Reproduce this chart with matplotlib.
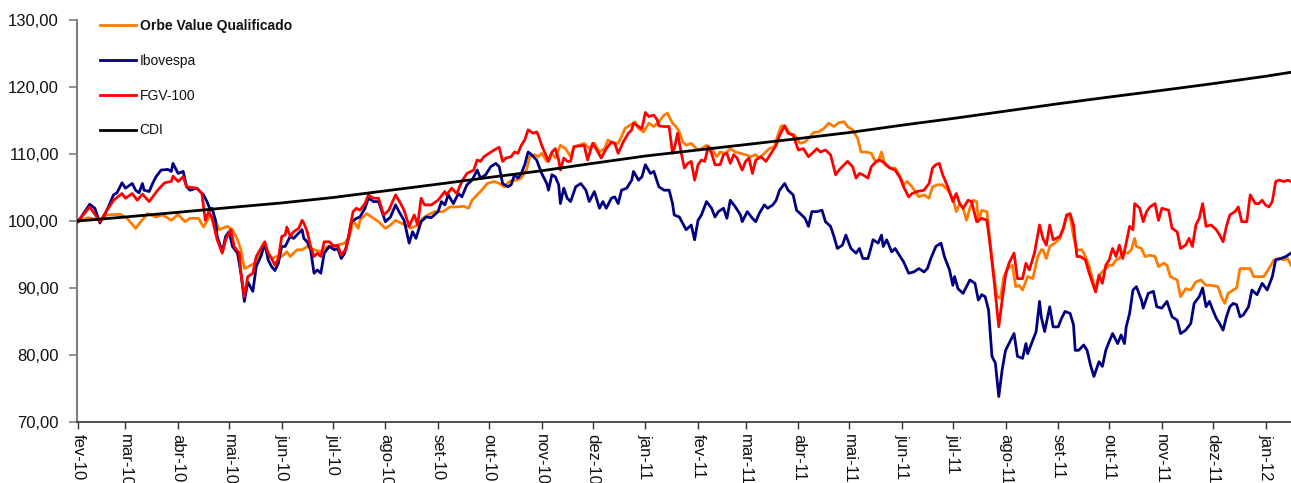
import numpy as np
import matplotlib
matplotlib.use("Agg")
import matplotlib.pyplot as plt
from matplotlib.ticker import FuncFormatter

plt.rcParams['font.family'] = ['Liberation Sans', 'DejaVu Sans']

START = np.datetime64('2010-02-01')

# ---- data (days since 2010-02-01, index value, base 100) ----
ibov_days = [0, 2, 7, 10, 13, 15, 18, 21, 23, 26, 28, 32, 34, 36, 38, 39, 42, 44, 46, 49, 53, 55, 56, 59, 62, 64, 66, 70, 72, 74, 76, 78, 79, 81, 82, 85, 87, 89, 91, 94, 96, 98, 100, 103, 105, 108, 110, 112, 114, 116, 118,
             120, 122, 125, 127, 130, 132, 133, 135, 137, 139, 141, 143, 145, 148, 151, 153, 155, 157, 159, 161, 164, 166, 169, 171, 174, 177, 181, 184, 187, 189, 192, 195, 197, 199, 202, 205, 208, 212, 214, 216, 218, 221, 224, 226, 229, 232, 235, 237,
             240, 243, 246, 248, 250, 253, 255, 257, 259, 261, 263, 265, 267, 270, 273, 276, 277, 279, 281, 283, 284, 286, 288, 290, 293, 296, 299, 301, 304, 307, 309, 311, 314, 316, 318, 320, 323, 326, 327, 330, 332, 334, 337, 339, 342, 345, 348, 350, 351, 354,
             358, 361, 363, 365, 367, 370, 373, 375, 377, 380, 382, 384, 387, 390, 391, 394, 397, 399, 401, 404, 406, 409, 411, 413, 416, 418, 421, 423, 426, 428, 430, 432, 435, 438, 440, 443, 445, 447, 450, 452, 455, 458, 460, 462, 465, 467, 468, 471,
             473, 474, 476, 479, 481, 484, 486, 489, 492, 495, 498, 500, 502, 505, 508, 510, 513, 515, 516, 518, 521, 523, 525, 528, 530, 532, 534, 536, 538, 540, 542, 544, 546, 549, 551, 553, 556, 558, 559, 562, 564, 566, 567, 569, 572, 574, 577, 579, 581, 584, 586, 587, 589,
             592, 594, 596, 598, 601, 603, 605, 607, 609, 612, 614, 616, 617, 619, 621, 623, 626, 627, 630, 633, 635, 638, 641, 644, 647, 649, 652, 655, 657, 660, 662, 664, 666, 668, 670, 672, 674, 676, 678, 680, 682, 684, 686, 689, 691, 694, 697, 700, 703, 705, 708, 711, 714]
ibov_vals = [99.9, 100.6, 102.5, 101.9, 99.7, 100.6, 102.1, 103.9, 104.2, 105.7, 104.9, 105.6, 104.6, 104.2, 105.6, 104.6, 104.4, 105.6, 106.6, 107.6, 107.7, 107.4, 108.6, 107.1, 107.4, 105.1, 104.6, 104.9, 104.4, 103.9, 102.9, 101.6, 101.9, 100.1, 97.7, 95.4, 97.7, 98.4, 96.2, 95.2, 92.2, 88.0, 90.9, 89.5, 93.2, 94.9, 96.7, 94.2, 93.2, 92.6, 93.7,
             96.2, 96.2, 97.7, 97.4, 98.2, 98.7, 97.4, 96.9, 95.7, 92.2, 92.7, 92.2, 95.2, 96.2, 95.7, 95.9, 94.4, 95.2, 97.2, 99.9, 100.4, 100.6, 101.9, 103.4, 102.9, 102.9, 99.9, 100.6, 102.4, 101.4, 100.1, 96.7, 98.4, 97.4, 99.9, 100.6, 100.5, 101.4, 102.9, 102.4, 103.9, 102.6, 104.1, 103.6, 105.4, 106.1, 107.6, 106.4,
             106.9, 108.1, 108.6, 108.1, 105.6, 105.1, 105.4, 106.9, 106.4, 107.1, 108.4, 110.3, 109.9, 109.1, 107.1, 105.6, 104.6, 106.9, 106.6, 105.4, 102.6, 104.9, 103.4, 102.9, 105.1, 105.6, 104.6, 102.9, 104.4, 101.9, 102.9, 101.9, 103.4, 103.6, 102.6, 104.6, 104.9, 106.1, 107.4, 106.1, 106.6, 108.4, 107.1, 107.4, 105.1, 104.6, 104.6, 102.6, 100.9, 100.6,
             98.7, 99.4, 97.2, 100.1, 100.9, 102.9, 101.9, 100.6, 101.4, 101.9, 100.4, 103.1, 102.1, 100.9, 99.9, 101.4, 100.4, 99.9, 101.1, 102.4, 101.9, 102.4, 103.1, 104.6, 105.6, 104.6, 103.9, 101.6, 100.9, 100.4, 99.2, 101.4, 101.4, 101.6, 99.9, 99.2, 97.7, 95.9, 96.4, 97.9, 95.9, 95.2, 95.9, 94.4, 94.4, 96.2, 97.2, 96.7,
             97.9, 96.2, 97.2, 95.4, 95.9, 94.7, 93.9, 92.2, 92.4, 92.9, 92.4, 92.9, 94.4, 96.2, 96.7, 94.7, 92.7, 90.4, 91.7, 89.9, 89.2, 90.2, 91.2, 90.7, 88.2, 89.0, 88.7, 86.7, 79.8, 78.8, 73.8, 77.8, 80.7, 82.2, 83.2, 79.8, 79.5, 81.7, 80.2, 82.2, 83.5, 88.0, 85.7, 83.5, 87.2, 84.2, 84.2, 85.5, 86.5, 86.2, 84.5, 80.7, 80.7,
             81.5, 80.7, 78.5, 76.8, 79.0, 78.3, 80.7, 82.0, 83.2, 81.7, 83.0, 81.7, 84.2, 86.2, 89.7, 90.2, 88.2, 87.0, 89.2, 89.5, 87.2, 87.0, 88.0, 85.7, 85.2, 83.2, 83.7, 84.7, 87.7, 88.7, 90.0, 87.2, 88.0, 86.7, 85.5, 84.7, 83.7, 85.7, 87.2, 87.7, 87.5, 85.7, 86.0, 87.2, 89.7, 89.0, 90.7, 89.7, 91.7, 94.2, 94.4, 94.7, 95.2]

fgv_days = [0, 7, 13, 21, 26, 28, 32, 35, 38, 42, 47, 51, 55, 56, 59, 62, 64, 70, 73, 75, 77, 79, 82, 85, 87, 90, 92, 95, 96, 98, 100, 103, 105, 110, 112, 114,
            116, 118, 120, 122, 123, 125, 127, 130, 132, 133, 135, 137, 139, 141, 143, 145, 148, 151, 153, 155, 158, 160, 162, 164, 166, 169, 171, 174, 177, 180, 183, 187, 190, 192, 195, 198, 200, 202, 204, 208, 212, 216, 217, 220, 223, 226, 229, 233,
            235, 237, 239, 242, 245, 248, 250, 252, 255, 257, 259, 261, 263, 265, 268, 270, 271, 273, 275, 277, 279, 281, 283, 284, 286, 288, 290, 292, 295, 298, 300, 303, 305, 308, 311, 314, 316, 318, 321, 324, 326, 327, 330, 332, 334, 336, 339, 341, 342, 345, 348, 350,
            351, 353, 355, 357, 359, 361, 363, 365, 367, 369, 371, 373, 375, 378, 380, 382, 384, 386, 388, 391, 393, 395, 397, 399, 402, 405, 408, 411, 413, 416, 418, 421, 424, 427, 430, 433, 435, 437, 440, 443, 446, 448, 451, 453, 456, 458, 460, 462, 465, 467, 470,
            472, 475, 478, 481, 484, 486, 489, 491, 494, 498, 501, 503, 505, 507, 509, 512, 515, 517, 519, 521, 524, 526, 529, 532, 535, 537, 539, 542, 544, 546, 548, 550, 551, 553, 556, 558, 560, 563, 566, 568, 570, 572, 574, 578, 580, 582, 584, 586, 588,
            590, 593, 595, 599, 601, 603, 605, 607, 609, 611, 613, 615, 617, 619, 621, 622, 625, 627, 629, 631, 634, 636, 638, 642, 644, 647, 649, 652, 654, 656, 658, 660, 662, 664, 667, 670, 672, 674, 676, 678, 681, 683, 685, 688, 690, 693, 695, 697, 699, 701, 703, 705, 707, 710, 712, 714]
fgv_vals = [99.9, 102.1, 99.9, 103.1, 104.1, 103.4, 104.1, 103.1, 104.0, 102.9, 104.6, 105.7, 105.9, 106.7, 105.9, 106.6, 105.1, 104.9, 104.1, 100.1, 101.4, 100.4, 97.2, 95.2, 97.2, 98.7, 96.2, 95.2, 92.2, 88.7, 91.7, 92.2, 94.7, 96.9, 95.2, 94.4,
            93.4, 94.4, 97.7, 97.9, 99.1, 97.7, 98.4, 98.9, 100.1, 99.7, 98.4, 96.2, 94.7, 95.2, 94.7, 96.9, 96.9, 96.2, 96.4, 94.9, 95.9, 98.7, 101.4, 101.9, 101.6, 102.6, 103.9, 103.4, 103.4, 100.9, 101.6, 103.9, 102.6, 101.6, 99.2, 100.9, 99.4, 103.4, 102.4, 102.4, 103.1, 104.4, 103.9, 104.9, 104.1, 105.9, 107.1, 107.6,
            109.1, 108.9, 109.6, 110.1, 110.6, 111.0, 108.9, 109.4, 109.6, 110.3, 110.1, 111.3, 112.1, 113.6, 113.1, 113.3, 112.8, 111.3, 110.1, 108.9, 110.3, 110.8, 109.1, 107.6, 109.4, 108.9, 108.9, 111.1, 111.2, 111.3, 109.1, 111.6, 110.8, 109.4, 110.8, 111.8, 111.6, 110.1, 111.8, 113.1, 113.6, 114.6, 114.1, 113.8, 116.2, 115.6, 115.8, 115.1, 114.2, 114.1, 114.1, 110.1,
            110.8, 113.1, 110.3, 107.9, 108.6, 108.9, 106.1, 108.4, 109.1, 108.9, 111.1, 110.1, 108.4, 108.4, 109.9, 110.1, 108.6, 109.9, 109.4, 107.6, 108.9, 109.4, 107.1, 109.1, 109.6, 108.9, 110.1, 111.3, 112.8, 114.2, 113.1, 112.8, 110.6, 110.8, 109.6, 110.3, 110.8, 110.3, 110.6, 109.9, 106.9, 107.6, 108.4, 108.9, 108.1, 106.4, 107.1, 106.9, 106.4, 108.1, 108.9,
            109.1, 108.6, 107.9, 107.6, 106.4, 105.1, 103.6, 104.1, 104.4, 104.6, 105.6, 107.9, 108.4, 108.6, 106.9, 105.1, 102.9, 104.1, 102.6, 101.9, 103.1, 102.9, 99.9, 100.4, 100.1, 96.2, 91.7, 84.2, 88.2, 91.9, 93.7, 94.7, 95.2, 91.4, 91.4, 93.7, 92.7, 95.2, 99.4, 97.4, 96.4, 99.4, 97.2, 97.7, 98.9, 100.9, 101.1, 99.4, 94.7,
            94.7, 94.2, 92.4, 89.4, 91.9, 90.7, 93.4, 94.2, 95.9, 94.7, 96.4, 94.4, 96.7, 99.2, 98.7, 102.6, 101.9, 99.9, 101.4, 102.1, 102.6, 100.1, 101.9, 101.6, 98.9, 98.4, 95.9, 96.4, 97.4, 96.2, 99.4, 100.4, 102.6, 99.2, 99.4, 98.7, 97.9, 96.9, 99.2, 100.9, 101.4, 102.1, 99.9, 99.9, 103.9, 102.6, 102.6, 103.1, 102.4, 102.1, 102.9, 105.9, 106.1, 105.9, 106.1, 105.9]

orbe_days = [0, 6, 13, 17, 25, 29, 34, 37, 41, 46, 50, 55, 59, 63, 66, 71, 74, 78, 81, 83, 88, 91, 94, 96, 98, 102, 105, 110, 114, 117,
             120, 123, 125, 129, 132, 135, 137, 143, 147, 153, 157, 160, 162, 165, 166, 170, 174, 177, 181, 184, 187, 190, 193, 196, 200, 203, 206, 210, 215, 219, 223, 227, 230, 232, 235, 237,
             241, 245, 248, 251, 254, 258, 261, 264, 266, 269, 271, 273, 276, 279, 281, 284, 287, 290, 292, 295, 298, 301, 304, 307, 310, 312, 315, 318, 320, 322, 325, 328, 330, 333, 336, 339, 342, 345, 347, 349, 350,
             352, 354, 356, 358, 361, 364, 366, 370, 373, 376, 378, 381, 384, 387, 390, 393, 396, 399, 401, 404, 407, 410, 412, 414, 416, 419, 422, 425, 428, 431, 433, 436, 439, 442, 445, 448, 451, 453, 456, 459, 461, 464, 467, 469, 471,
             473, 475, 478, 481, 484, 486, 488, 491, 495, 498, 501, 503, 506, 509, 512, 515, 517, 519, 521, 523, 525, 527, 529, 530, 532, 535, 537, 539, 541, 543, 545, 547, 550, 552, 554, 556, 559, 562, 565, 567, 568, 570, 572, 575, 578, 580, 582, 584, 586,
             588, 591, 593, 595, 599, 601, 604, 607, 609, 611, 613, 615, 618, 620, 622, 623, 626, 628, 631, 634, 636, 639, 641, 643, 647, 649, 652, 655, 658, 661, 664, 667, 671, 673, 675, 677, 680, 682, 684, 688, 690, 692, 695, 698, 701, 704, 707, 710, 712, 714]
orbe_vals = [99.9, 100.5, 100.1, 100.9, 101.0, 100.4, 98.9, 99.9, 101.1, 100.6, 100.9, 100.1, 101.0, 99.9, 100.4, 100.4, 99.1, 100.9, 100.1, 98.7, 99.2, 98.7, 97.2, 95.7, 92.9, 93.4, 93.9, 96.2, 94.4, 94.7,
             94.7, 95.4, 94.7, 95.7, 95.7, 96.2, 95.9, 95.4, 96.2, 96.4, 96.7, 97.7, 100.1, 98.9, 100.1, 101.1, 100.4, 99.9, 98.9, 99.4, 100.1, 99.7, 99.4, 98.9, 99.4, 100.4, 100.9, 101.4, 101.4, 102.1, 102.1, 102.2, 101.9, 103.1, 103.9, 104.4,
             105.6, 105.9, 105.6, 105.1, 105.9, 106.1, 106.4, 107.6, 109.6, 109.9, 109.6, 110.1, 108.9, 110.1, 109.4, 111.3, 110.8, 109.6, 111.1, 111.3, 111.6, 110.8, 111.6, 110.3, 110.8, 112.1, 111.6, 111.6, 112.6, 113.8, 114.3, 114.8, 113.8, 113.3, 114.6, 114.1, 114.8, 115.8, 116.1, 115.1, 114.6,
             114.1, 113.3, 111.8, 111.3, 111.6, 110.8, 110.6, 111.3, 110.8, 109.6, 110.3, 110.1, 110.8, 110.3, 110.1, 109.9, 109.6, 109.9, 109.4, 110.1, 110.8, 111.1, 112.8, 114.2, 114.2, 113.1, 112.8, 111.6, 111.8, 112.6, 113.2, 113.3, 113.8, 114.6, 114.1, 114.7, 114.8, 114.1, 113.6, 112.3, 110.3, 110.3, 110.1, 109.1, 108.9,
             110.3, 108.4, 107.9, 107.9, 106.6, 105.4, 105.9, 105.1, 103.6, 103.9, 103.4, 105.1, 105.4, 105.4, 104.6, 103.4, 101.4, 102.6, 101.9, 100.1, 101.9, 103.1, 102.9, 99.9, 101.6, 101.4, 96.7, 92.2, 88.7, 88.5, 91.7, 92.9, 93.4, 90.2, 90.4, 89.7, 91.7, 91.4, 94.7, 95.7, 95.7, 94.4, 96.2, 96.7, 97.4, 98.9, 100.9, 100.6, 97.7,
             95.7, 95.7, 94.7, 93.4, 89.7, 91.9, 92.7, 93.4, 93.4, 94.2, 94.4, 95.4, 95.2, 95.7, 97.4, 96.2, 95.9, 94.7, 94.9, 94.7, 93.2, 93.7, 93.4, 91.7, 91.2, 88.7, 89.9, 89.7, 90.9, 91.2, 90.4, 90.4, 90.2, 88.7, 87.7, 89.2, 89.7, 90.0, 92.9, 92.9, 92.9, 91.7, 91.7, 91.7, 92.9, 94.2, 94.4, 94.2, 94.4, 93.4]

cdi_days = [0, 28, 59, 89, 120, 150, 181, 212, 242, 273, 303, 334, 365, 393, 424, 454, 485, 515, 546, 577, 607, 638, 668, 699, 714]
cdi_vals = [100.0, 100.6, 101.3, 102.0, 102.7, 103.5, 104.5, 105.5, 106.5, 107.5, 108.6, 109.7, 110.6, 111.4, 112.3, 113.2, 114.3, 115.3, 116.4, 117.5, 118.5, 119.5, 120.5, 121.6, 122.2]

series_names = ['Orbe Value Qualificado', 'Ibovespa', 'FGV-100', 'CDI']
series_colors = ['#FF7A00', '#000080', '#FF0000', '#000000']

month_abbr = ['jan', 'fev', 'mar', 'abr', 'mai', 'jun', 'jul', 'ago', 'set', 'out', 'nov', 'dez']
y_ticks = [70, 80, 90, 100, 110, 120, 130]


def to_dates(days):
    return START + np.array(days).astype('timedelta64[D]')


fig = plt.figure(figsize=(12.91, 4.83), dpi=100)
ax = fig.add_axes([77 / 1291, 1 - 422 / 483, 1 - 77 / 1291, (422 - 20) / 483])

data = [(orbe_days, orbe_vals), (ibov_days, ibov_vals), (fgv_days, fgv_vals), (cdi_days, cdi_vals)]
for (d, v), name, col, z in zip(data, series_names, series_colors, [2, 3, 4, 5]):
    ax.plot(to_dates(d), v, color=col, lw=2.0, label=name, zorder=z, solid_joinstyle='round')

ax.set_ylim(70, 130)
ax.set_yticks(y_ticks)
ax.yaxis.set_major_formatter(FuncFormatter(lambda v, p: f"{v:.2f}".replace('.', ',')))
ax.set_xlim(START - np.timedelta64(12, 'h'), START + np.timedelta64(714, 'D'))

month_starts = np.arange(np.datetime64('2010-02'), np.datetime64('2012-02'), np.timedelta64(1, 'M')).astype('datetime64[D]')
ax.set_xticks(month_starts)
labels = []
for m in month_starts:
    s = str(m)
    yy, mm = s[2:4], int(s[5:7])
    labels.append(f"{month_abbr[mm - 1]}-{yy}")
ax.set_xticklabels(labels, rotation=270, ha='center', va='top', fontsize=12, color='#111111')

for sp in ['top', 'right']:
    ax.spines[sp].set_visible(False)
ax.spines['left'].set_color('#7f7f7f')
ax.spines['left'].set_linewidth(1.5)
ax.spines['bottom'].set_color('#333333')
ax.spines['bottom'].set_linewidth(1.2)
ax.tick_params(axis='y', direction='out', length=6, width=1.2, color='#7f7f7f', pad=7, labelsize=12, labelcolor='#111111')
ax.tick_params(axis='x', direction='out', length=5, width=1.0, color='#333333', pad=4)

leg = fig.legend(loc='upper left', bbox_to_anchor=(100 / 1291, 1 - 19 / 483), frameon=False,
                 fontsize=10, handlelength=2.6, handletextpad=0.25, labelspacing=1.5,
                 borderpad=0, borderaxespad=0)
leg.get_texts()[0].set_fontweight('bold')
for t in leg.get_texts():
    t.set_color('#111111')

fig.savefig('out.png', dpi=100)
